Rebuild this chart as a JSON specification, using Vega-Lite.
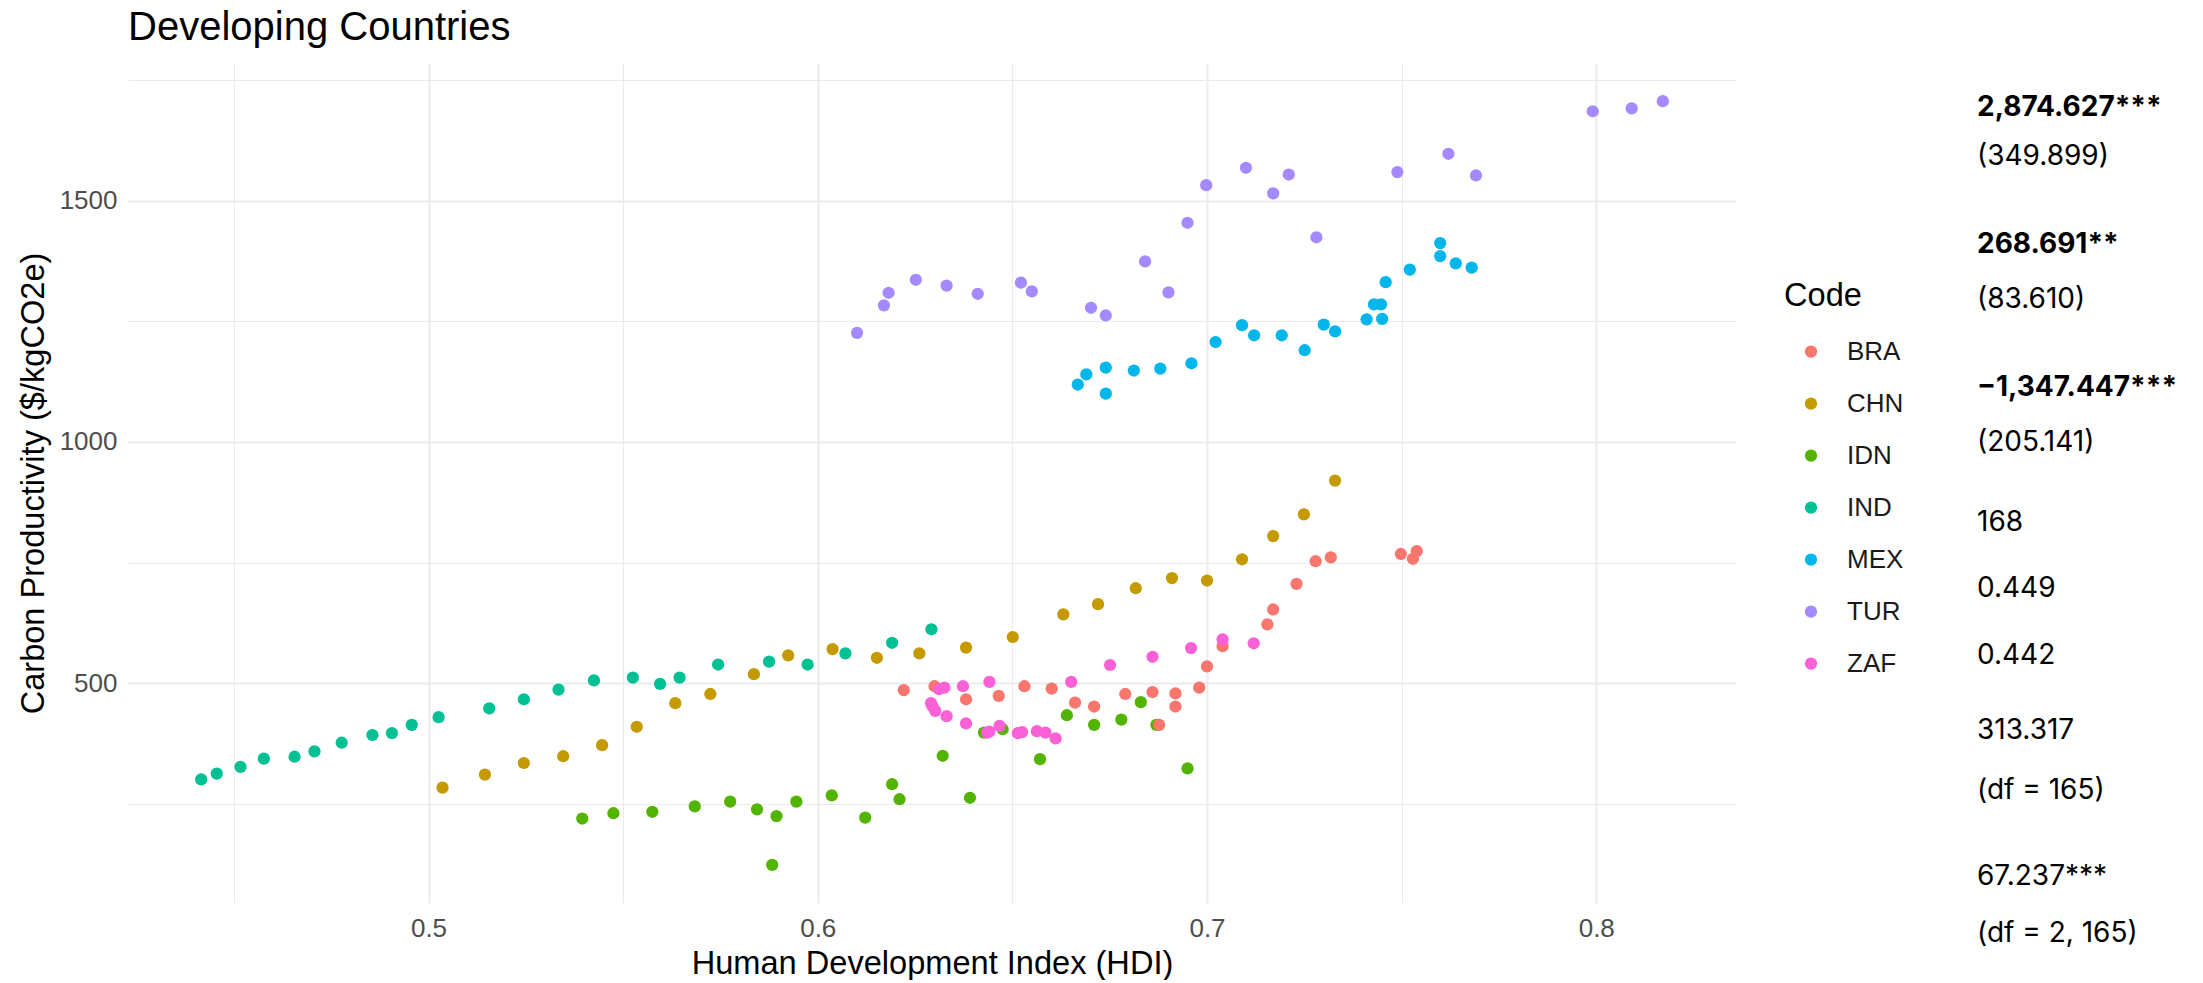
{
  "$schema": "https://vega.github.io/schema/vega-lite/v6.json",
  "padding": {"left": 17, "top": 8, "right": 0, "bottom": 0},
  "background": "white",
  "config": {"view": {"stroke": null}, "font": "Liberation Sans"},
  "spacing": 241,
  "datasets": {
    "points": [
      {"Code": "IND", "hdi": 0.4416, "cp": 301}, {"Code": "IND", "hdi": 0.4456, "cp": 313}, {"Code": "IND", "hdi": 0.4517, "cp": 327}, {"Code": "IND", "hdi": 0.4577, "cp": 344},
      {"Code": "IND", "hdi": 0.4656, "cp": 348}, {"Code": "IND", "hdi": 0.4707, "cp": 359}, {"Code": "IND", "hdi": 0.4777, "cp": 377}, {"Code": "IND", "hdi": 0.4856, "cp": 393},
      {"Code": "IND", "hdi": 0.4906, "cp": 397}, {"Code": "IND", "hdi": 0.4957, "cp": 414}, {"Code": "IND", "hdi": 0.5026, "cp": 430}, {"Code": "IND", "hdi": 0.5156, "cp": 448},
      {"Code": "IND", "hdi": 0.5245, "cp": 467}, {"Code": "IND", "hdi": 0.5334, "cp": 487}, {"Code": "IND", "hdi": 0.5425, "cp": 506}, {"Code": "IND", "hdi": 0.5525, "cp": 512},
      {"Code": "IND", "hdi": 0.5595, "cp": 499}, {"Code": "IND", "hdi": 0.5645, "cp": 512}, {"Code": "IND", "hdi": 0.5744, "cp": 539}, {"Code": "IND", "hdi": 0.5875, "cp": 545},
      {"Code": "IND", "hdi": 0.5974, "cp": 539}, {"Code": "IND", "hdi": 0.6071, "cp": 562}, {"Code": "IND", "hdi": 0.6191, "cp": 584}, {"Code": "IND", "hdi": 0.6292, "cp": 612},
      {"Code": "CHN", "hdi": 0.5036, "cp": 284}, {"Code": "CHN", "hdi": 0.5145, "cp": 311}, {"Code": "CHN", "hdi": 0.5245, "cp": 335}, {"Code": "CHN", "hdi": 0.5346, "cp": 349},
      {"Code": "CHN", "hdi": 0.5446, "cp": 372}, {"Code": "CHN", "hdi": 0.5535, "cp": 410}, {"Code": "CHN", "hdi": 0.5634, "cp": 459}, {"Code": "CHN", "hdi": 0.5724, "cp": 478},
      {"Code": "CHN", "hdi": 0.5836, "cp": 519}, {"Code": "CHN", "hdi": 0.5924, "cp": 558}, {"Code": "CHN", "hdi": 0.6038, "cp": 571}, {"Code": "CHN", "hdi": 0.6152, "cp": 553},
      {"Code": "CHN", "hdi": 0.6261, "cp": 562}, {"Code": "CHN", "hdi": 0.6381, "cp": 574}, {"Code": "CHN", "hdi": 0.6501, "cp": 596}, {"Code": "CHN", "hdi": 0.6631, "cp": 643},
      {"Code": "CHN", "hdi": 0.672, "cp": 664}, {"Code": "CHN", "hdi": 0.6817, "cp": 697}, {"Code": "CHN", "hdi": 0.691, "cp": 718}, {"Code": "CHN", "hdi": 0.7, "cp": 713},
      {"Code": "CHN", "hdi": 0.709, "cp": 757}, {"Code": "CHN", "hdi": 0.717, "cp": 805}, {"Code": "CHN", "hdi": 0.7249, "cp": 850}, {"Code": "CHN", "hdi": 0.7329, "cp": 920},
      {"Code": "IDN", "hdi": 0.5395, "cp": 220}, {"Code": "IDN", "hdi": 0.5475, "cp": 231}, {"Code": "IDN", "hdi": 0.5575, "cp": 234}, {"Code": "IDN", "hdi": 0.5684, "cp": 245},
      {"Code": "IDN", "hdi": 0.5775, "cp": 255}, {"Code": "IDN", "hdi": 0.5844, "cp": 239}, {"Code": "IDN", "hdi": 0.5883, "cp": 124}, {"Code": "IDN", "hdi": 0.5894, "cp": 225},
      {"Code": "IDN", "hdi": 0.5945, "cp": 255}, {"Code": "IDN", "hdi": 0.6036, "cp": 268}, {"Code": "IDN", "hdi": 0.6122, "cp": 222}, {"Code": "IDN", "hdi": 0.6191, "cp": 291},
      {"Code": "IDN", "hdi": 0.621, "cp": 260}, {"Code": "IDN", "hdi": 0.6321, "cp": 350}, {"Code": "IDN", "hdi": 0.6391, "cp": 263}, {"Code": "IDN", "hdi": 0.6427, "cp": 398},
      {"Code": "IDN", "hdi": 0.6475, "cp": 405}, {"Code": "IDN", "hdi": 0.6571, "cp": 343}, {"Code": "IDN", "hdi": 0.664, "cp": 434}, {"Code": "IDN", "hdi": 0.671, "cp": 414},
      {"Code": "IDN", "hdi": 0.678, "cp": 425}, {"Code": "IDN", "hdi": 0.683, "cp": 461}, {"Code": "IDN", "hdi": 0.687, "cp": 414}, {"Code": "IDN", "hdi": 0.695, "cp": 324},
      {"Code": "BRA", "hdi": 0.6221, "cp": 486}, {"Code": "BRA", "hdi": 0.63, "cp": 494}, {"Code": "BRA", "hdi": 0.6381, "cp": 467}, {"Code": "BRA", "hdi": 0.6465, "cp": 474},
      {"Code": "BRA", "hdi": 0.6531, "cp": 494}, {"Code": "BRA", "hdi": 0.6601, "cp": 489}, {"Code": "BRA", "hdi": 0.6661, "cp": 460}, {"Code": "BRA", "hdi": 0.671, "cp": 452},
      {"Code": "BRA", "hdi": 0.679, "cp": 478}, {"Code": "BRA", "hdi": 0.686, "cp": 482}, {"Code": "BRA", "hdi": 0.6877, "cp": 414}, {"Code": "BRA", "hdi": 0.6919, "cp": 479},
      {"Code": "BRA", "hdi": 0.6919, "cp": 452}, {"Code": "BRA", "hdi": 0.698, "cp": 491}, {"Code": "BRA", "hdi": 0.7, "cp": 535}, {"Code": "BRA", "hdi": 0.704, "cp": 577},
      {"Code": "BRA", "hdi": 0.7155, "cp": 622}, {"Code": "BRA", "hdi": 0.717, "cp": 653}, {"Code": "BRA", "hdi": 0.723, "cp": 706}, {"Code": "BRA", "hdi": 0.7279, "cp": 753},
      {"Code": "BRA", "hdi": 0.7318, "cp": 761}, {"Code": "BRA", "hdi": 0.7498, "cp": 768}, {"Code": "BRA", "hdi": 0.7529, "cp": 758}, {"Code": "BRA", "hdi": 0.7539, "cp": 774},
      {"Code": "ZAF", "hdi": 0.6291, "cp": 459}, {"Code": "ZAF", "hdi": 0.6295, "cp": 452}, {"Code": "ZAF", "hdi": 0.6302, "cp": 443}, {"Code": "ZAF", "hdi": 0.6312, "cp": 488},
      {"Code": "ZAF", "hdi": 0.6325, "cp": 491}, {"Code": "ZAF", "hdi": 0.6331, "cp": 432}, {"Code": "ZAF", "hdi": 0.6373, "cp": 494}, {"Code": "ZAF", "hdi": 0.6381, "cp": 417},
      {"Code": "ZAF", "hdi": 0.6435, "cp": 398}, {"Code": "ZAF", "hdi": 0.6441, "cp": 503}, {"Code": "ZAF", "hdi": 0.6441, "cp": 400}, {"Code": "ZAF", "hdi": 0.6467, "cp": 412},
      {"Code": "ZAF", "hdi": 0.6514, "cp": 397}, {"Code": "ZAF", "hdi": 0.6525, "cp": 399}, {"Code": "ZAF", "hdi": 0.6563, "cp": 401}, {"Code": "ZAF", "hdi": 0.6585, "cp": 398},
      {"Code": "ZAF", "hdi": 0.6611, "cp": 386}, {"Code": "ZAF", "hdi": 0.6651, "cp": 503}, {"Code": "ZAF", "hdi": 0.6751, "cp": 538}, {"Code": "ZAF", "hdi": 0.686, "cp": 555},
      {"Code": "ZAF", "hdi": 0.6959, "cp": 573}, {"Code": "ZAF", "hdi": 0.704, "cp": 591}, {"Code": "ZAF", "hdi": 0.712, "cp": 583},
      {"Code": "MEX", "hdi": 0.6668, "cp": 1119}, {"Code": "MEX", "hdi": 0.669, "cp": 1140}, {"Code": "MEX", "hdi": 0.674, "cp": 1154}, {"Code": "MEX", "hdi": 0.674, "cp": 1100},
      {"Code": "MEX", "hdi": 0.6812, "cp": 1148}, {"Code": "MEX", "hdi": 0.688, "cp": 1152}, {"Code": "MEX", "hdi": 0.696, "cp": 1163}, {"Code": "MEX", "hdi": 0.7022, "cp": 1207},
      {"Code": "MEX", "hdi": 0.709, "cp": 1242}, {"Code": "MEX", "hdi": 0.7121, "cp": 1221}, {"Code": "MEX", "hdi": 0.7192, "cp": 1221}, {"Code": "MEX", "hdi": 0.7251, "cp": 1190},
      {"Code": "MEX", "hdi": 0.73, "cp": 1243}, {"Code": "MEX", "hdi": 0.7329, "cp": 1229}, {"Code": "MEX", "hdi": 0.741, "cp": 1254}, {"Code": "MEX", "hdi": 0.7429, "cp": 1285},
      {"Code": "MEX", "hdi": 0.7447, "cp": 1285}, {"Code": "MEX", "hdi": 0.745, "cp": 1255}, {"Code": "MEX", "hdi": 0.7459, "cp": 1331}, {"Code": "MEX", "hdi": 0.7521, "cp": 1357},
      {"Code": "MEX", "hdi": 0.7599, "cp": 1412}, {"Code": "MEX", "hdi": 0.7599, "cp": 1385}, {"Code": "MEX", "hdi": 0.7639, "cp": 1370}, {"Code": "MEX", "hdi": 0.768, "cp": 1361},
      {"Code": "TUR", "hdi": 0.6101, "cp": 1226}, {"Code": "TUR", "hdi": 0.617, "cp": 1283}, {"Code": "TUR", "hdi": 0.6182, "cp": 1309}, {"Code": "TUR", "hdi": 0.6252, "cp": 1336},
      {"Code": "TUR", "hdi": 0.6331, "cp": 1324}, {"Code": "TUR", "hdi": 0.6411, "cp": 1307}, {"Code": "TUR", "hdi": 0.6522, "cp": 1330}, {"Code": "TUR", "hdi": 0.655, "cp": 1312},
      {"Code": "TUR", "hdi": 0.6702, "cp": 1278}, {"Code": "TUR", "hdi": 0.674, "cp": 1262}, {"Code": "TUR", "hdi": 0.6841, "cp": 1374}, {"Code": "TUR", "hdi": 0.6901, "cp": 1310},
      {"Code": "TUR", "hdi": 0.695, "cp": 1454}, {"Code": "TUR", "hdi": 0.6998, "cp": 1532}, {"Code": "TUR", "hdi": 0.71, "cp": 1568}, {"Code": "TUR", "hdi": 0.717, "cp": 1515},
      {"Code": "TUR", "hdi": 0.721, "cp": 1554}, {"Code": "TUR", "hdi": 0.7281, "cp": 1424}, {"Code": "TUR", "hdi": 0.7489, "cp": 1559}, {"Code": "TUR", "hdi": 0.762, "cp": 1597},
      {"Code": "TUR", "hdi": 0.7691, "cp": 1552}, {"Code": "TUR", "hdi": 0.7991, "cp": 1685}, {"Code": "TUR", "hdi": 0.8091, "cp": 1691}, {"Code": "TUR", "hdi": 0.8171, "cp": 1706}
    ],
    "stats": [
      {"col": 0, "line": 1.0, "label": "2,874.627***", "bold": true},
      {"col": 0, "line": 1.9, "label": "(349.899)", "bold": false},
      {"col": 0, "line": 3.47, "label": "268.691**", "bold": true},
      {"col": 0, "line": 4.46, "label": "(83.610)", "bold": false},
      {"col": 0, "line": 6.05, "label": "−1,347.447***", "bold": true},
      {"col": 0, "line": 7.05, "label": "(205.141)", "bold": false},
      {"col": 0, "line": 8.48, "label": "168", "bold": false},
      {"col": 0, "line": 9.68, "label": "0.449", "bold": false},
      {"col": 0, "line": 10.89, "label": "0.442", "bold": false},
      {"col": 0, "line": 12.24, "label": "313.317", "bold": false},
      {"col": 0, "line": 13.32, "label": "(df = 165)", "bold": false},
      {"col": 0, "line": 14.86, "label": "67.237***", "bold": false},
      {"col": 0, "line": 15.9, "label": "(df = 2, 165)", "bold": false}
    ]
  },
  "hconcat": [
    {
      "width": 1608,
      "height": 840,
      "title": {"text": "Developing Countries", "anchor": "start", "frame": "group", "fontSize": 40, "fontWeight": "normal", "color": "#000000", "font": "Liberation Sans", "offset": 15},
      "data": {"name": "points"},
      "mark": {"type": "circle", "size": 150, "opacity": 1},
      "encoding": {
        "x": {
          "field": "hdi", "type": "quantitative",
          "scale": {"domain": [0.4228, 0.8359], "nice": false, "zero": false},
          "axis": {
            "title": "Human Development Index (HDI)",
            "values": [0.45, 0.5, 0.55, 0.6, 0.65, 0.7, 0.75, 0.8],
            "labelExpr": "round(datum.value*100) % 10 === 0 ? format(datum.value, '.1f') : ''",
            "labelOverlap": false, "labelFlush": false, "labelBound": false,
            "domain": false, "ticks": false,
            "labelFontSize": 26, "labelColor": "#4D4D4D", "labelPadding": 12,
            "titleFontSize": 32.6, "titleFontWeight": "normal", "titleColor": "#000000", "titlePadding": 6,
            "gridColor": "#EBEBEB",
            "gridWidth": {"condition": {"test": "round(datum.value*100) % 10 === 0", "value": 2}, "value": 1}
          }
        },
        "y": {
          "field": "cp", "type": "quantitative",
          "scale": {"domain": [45, 1785], "nice": false, "zero": false},
          "axis": {
            "title": "Carbon Productivity ($/kgCO2e)",
            "values": [250, 500, 750, 1000, 1250, 1500, 1750],
            "labelExpr": "datum.value % 500 === 0 ? format(datum.value, 'd') : ''",
            "labelOverlap": false, "labelFlush": false, "labelBound": false,
            "domain": false, "ticks": false,
            "labelFontSize": 26, "labelColor": "#4D4D4D", "labelPadding": 11,
            "titleFontSize": 32.6, "titleFontWeight": "normal", "titleColor": "#000000", "titlePadding": 9,
            "gridColor": "#EBEBEB",
            "gridWidth": {"condition": {"test": "datum.value % 500 === 0", "value": 2}, "value": 1}
          }
        },
        "color": {
          "field": "Code", "type": "nominal",
          "scale": {"domain": ["BRA", "CHN", "IDN", "IND", "MEX", "TUR", "ZAF"], "range": ["#F8766D", "#C49A00", "#53B400", "#00C094", "#00B6EB", "#A58AFF", "#FB61D7"]},
          "legend": {
            "orient": "none", "legendX": 1656, "legendY": 217,
            "title": "Code", "titleFontSize": 32.6, "titleFontWeight": "normal", "titleColor": "#000000", "titlePadding": 26,
            "labelFontSize": 26, "labelColor": "#1A1A1A", "labelOffset": 23,
            "symbolOffset": 14, "symbolSize": 150, "symbolType": "circle", "symbolStrokeWidth": 0, "symbolOpacity": 1,
            "rowPadding": 26, "padding": 0
          }
        }
      }
    },
    {
      "width": 200,
      "height": 840,
      "data": {"name": "stats"},
      "encoding": {
        "x": {"field": "col", "type": "quantitative", "scale": {"domain": [0, 1]}, "axis": null},
        "y": {"field": "line", "type": "quantitative", "scale": {"domain": [0.198, 15.333], "reverse": true, "nice": false, "zero": false}, "axis": null},
        "text": {"field": "label"}
      },
      "layer": [
        {"transform": [{"filter": "datum.bold"}], "mark": {"type": "text", "align": "left", "baseline": "middle", "font": "Inter", "fontSize": 28, "fontWeight": "bold", "color": "#000000"}},
        {"transform": [{"filter": "!datum.bold"}], "mark": {"type": "text", "align": "left", "baseline": "middle", "font": "Inter", "fontSize": 28, "fontWeight": "normal", "color": "#000000"}}
      ]
    }
  ]
}
